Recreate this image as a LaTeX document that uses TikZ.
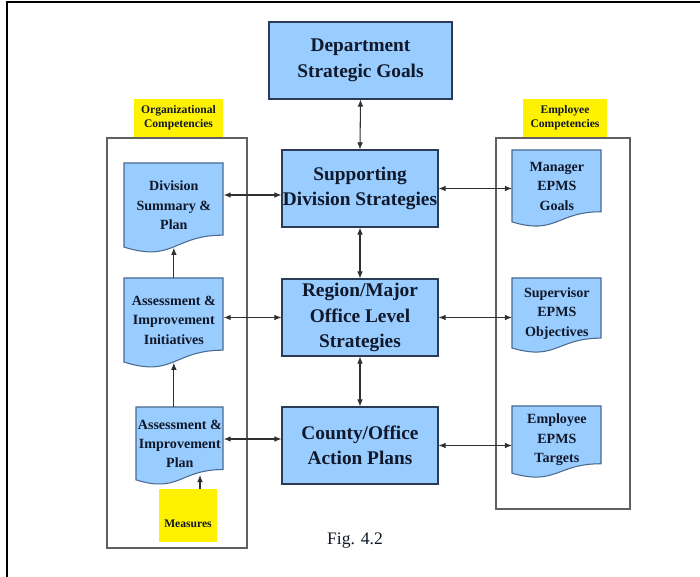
\documentclass[tikz,border=0pt]{standalone}
\usepackage{fontspec}
\setmainfont{LiberationSerif}[Extension=.ttf,UprightFont=*-Regular,BoldFont=*-Bold,ItalicFont=*-Italic,BoldItalicFont=*-BoldItalic]
\usetikzlibrary{arrows.meta,calc}
\definecolor{boxblue}{HTML}{99CCFF}
\definecolor{boxline}{HTML}{2B3A55}
\definecolor{docline}{HTML}{4A6A90}
\definecolor{panelline}{HTML}{606060}
\definecolor{arrowcol}{HTML}{303030}
\definecolor{txt}{HTML}{10182A}
\tikzset{
  mainbox/.style={draw=boxline, fill=boxblue, line width=0.6pt, inner sep=0pt, align=center,
    text=txt, font=\fontsize{11}{14.5}\selectfont\bfseries, minimum height=1.54cm},
  doctext/.style={inner sep=0pt, align=center, text=txt, font=\fontsize{8}{11}\selectfont\bfseries},
  tag/.style={fill=yellow, inner sep=0pt, align=center, text=txt, font=\fontsize{6.6}{8}\selectfont\bfseries},
  panel/.style={draw=panelline, line width=0.7pt},
  dbl/.style={draw=arrowcol, line width=0.6pt, {Latex[length=4pt,width=3.2pt]}-{Latex[length=4pt,width=3.2pt]}},
  sarr/.style={draw=arrowcol, line width=0.6pt, -{Latex[length=4pt,width=3.2pt]}},
}
\newcommand\docshape[6]{%
  \path[fill=boxblue, draw=docline, line width=0.6pt] (#2,#3) -- (#4,#3) -- (#4,{#3+0.802*#5})
    .. controls ({(#2+#4)/2},{#3+0.802*#5}) and ({(#2+#4)/2},{#3+1.108*#5}) .. (#2,{#3+0.934*#5}) -- cycle;
  \node[doctext, anchor=north west, minimum width={(#4-#2)*0.02cm}, minimum height={0.934*#5*0.02cm}] (#1) at (#2,#3) {#6};
}
\begin{document}
\begin{tikzpicture}[x=0.02cm,y=-0.02cm]
\useasboundingbox (0,0) rectangle (700,577);
\fill[white] (0,0) rectangle (700,577);
\draw[line width=1pt] (7,577) -- (7,2) -- (700,2);

% panels
\draw[panel] (107,138) rectangle (247,548);
\draw[panel] (496,138) rectangle (630,509);
\node[tag, minimum width=1.78cm, minimum height=0.76cm] (orgc) at (178.5,118) {Organizational\\Competencies};
\node[tag, minimum width=1.68cm, minimum height=0.76cm] (empc) at (565,118) {Employee\\Competencies};

% main boxes
\node[mainbox, minimum width=3.66cm] (dept) at (360.5,60.5) {Department\\Strategic Goals};
\node[mainbox, minimum width=3.12cm] (sup) at (360,188.5) {Supporting\\Division Strategies};
\node[mainbox, minimum width=3.12cm] (reg) at (360,317.5) {Region/Major\\Office Level\\Strategies};
\node[mainbox, minimum width=3.12cm] (cty) at (360,445.5) {County/Office\\Action Plans};

% documents
\docshape{div}{124}{163}{223}{90}{Division\\Summary \&\\Plan}
\docshape{ini}{124}{278}{223}{90}{Assessment \&\\Improvement\\Initiatives}
\docshape{plan}{136}{407}{223}{78}{Assessment \&\\Improvement\\Plan}
\docshape{mgr}{512}{150}{601}{77}{Manager\\EPMS\\Goals}
\docshape{spv}{512}{278}{601}{75}{Supervisor\\EPMS\\Objectives}
\docshape{emp}{512}{406}{601}{72}{Employee\\EPMS\\Targets}

\node[tag, minimum width=1.16cm, text height=0.76cm, text depth=0.30cm, anchor=north] (meas) at (188,489) {Measures};

\node[text=txt, font=\fontsize{10}{12}\selectfont] (fig) at (355,541) {Fig. 4.2};

% connectors
\draw[dbl] (dept.south) -- (sup.north);
\draw[dbl] (sup.south) -- (reg.north);
\draw[dbl] (reg.south) -- (cty.north);

\coordinate (a1) at ($(sup.west)+(0,-0.13cm)$);
\draw[dbl] (a1 -| div.east) -- (a1);
\draw[dbl] (reg.west -| ini.east) -- (reg.west);
\coordinate (a2) at ($(cty.west)+(0,0.13cm)$);
\draw[dbl] (a2 -| plan.east) -- (a2);

\draw[dbl] (sup.east) -- (sup.east -| mgr.west);
\draw[dbl] (reg.east) -- (reg.east -| spv.west);
\draw[dbl] (cty.east) -- (cty.east -| emp.west);

\draw[sarr] (ini.north -| div.south) -- (div.south);
\draw[sarr] (plan.north -| ini.south) -- (ini.south);
\coordinate (planB) at (200,475);
\draw[sarr] (meas.north -| planB) -- (planB);
\end{tikzpicture}
\end{document}
